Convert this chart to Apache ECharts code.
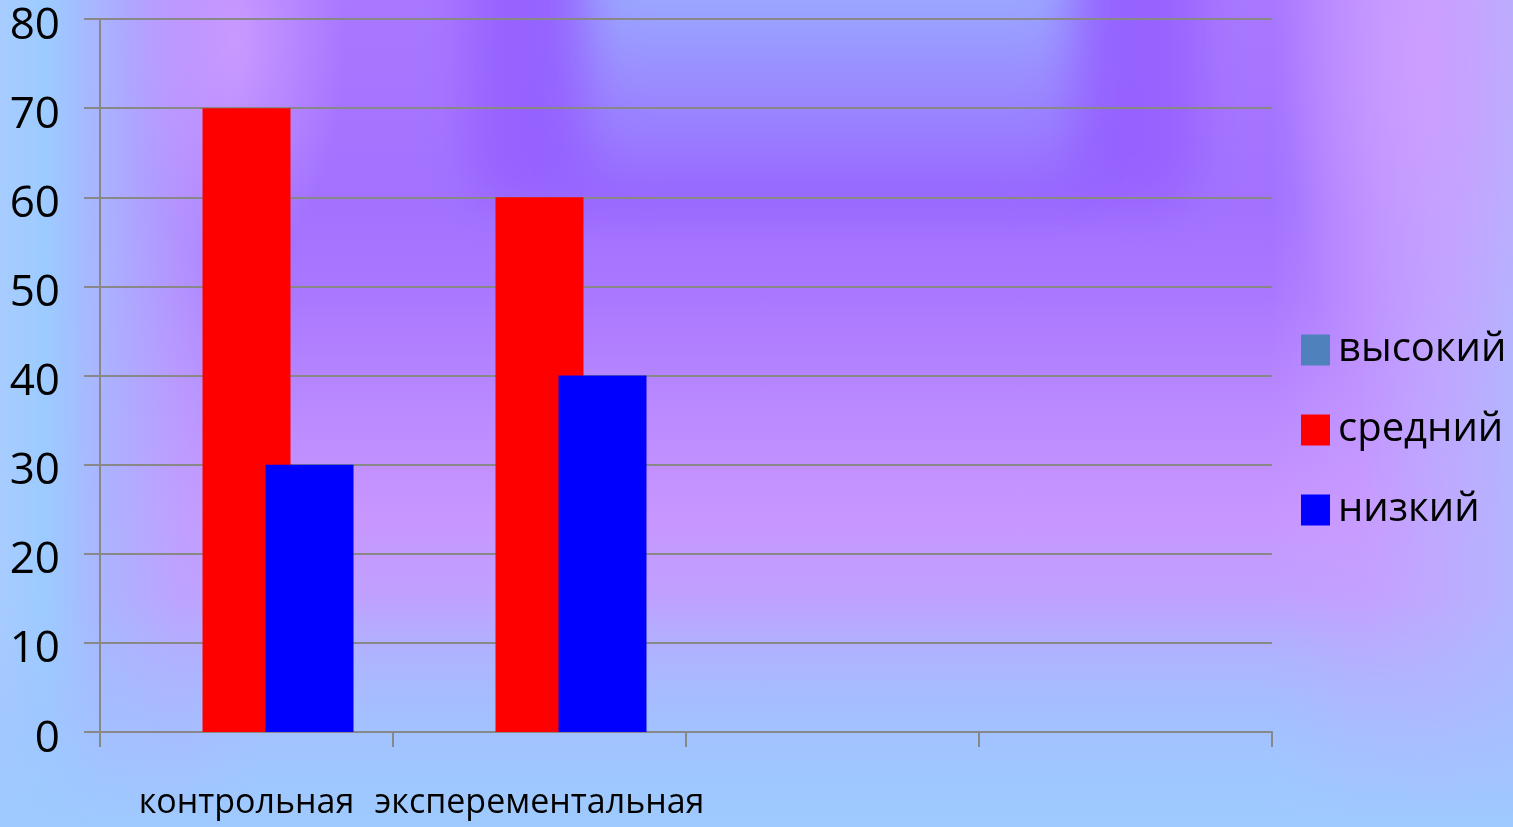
<!DOCTYPE html>
<html>
<head>
<meta charset="utf-8">
<script src="https://cdn.jsdelivr.net/npm/echarts@6/dist/echarts.min.js"></script>
<style>
html,body{margin:0;padding:0;width:1513px;height:827px;overflow:hidden;}
body{
  position:relative;
  background:
    linear-gradient(to bottom, rgba(158,200,255,0) 72%, rgba(160,196,255,0.55) 86%, rgba(158,202,255,1) 100%),
    radial-gradient(ellipse 110px 230px at 235px 40px, rgba(204,158,255,0.9), rgba(204,158,255,0) 100%),
    linear-gradient(to right, #a8ccff 0%, #9ccbff 3%, rgba(171,180,255,0.95) 7%, rgba(188,164,255,0.6) 12%, rgba(188,164,255,0) 17%),
    radial-gradient(ellipse 140px 380px at 1425px 60px, rgba(206,158,255,0.9), rgba(206,158,255,0) 100%),
    linear-gradient(to left, #b4b4ff 0%, rgba(190,170,255,0.9) 5%, rgba(200,160,255,0.5) 10%, rgba(200,160,255,0) 16%),
    linear-gradient(to bottom, #a878ff 0%, #a272ff 25%, #aa78ff 36%, #b888ff 48%, #c896ff 62%, #c0a0ff 72%, #aab8ff 86%, #9ec8ff 100%);
}
.blob{position:absolute;pointer-events:none;}
#b1{left:468px;top:-80px;width:730px;height:290px;background:#9662ff;border-radius:50px;filter:blur(22px);opacity:0.95;}
#b2{left:585px;top:-70px;width:490px;height:250px;background:linear-gradient(to bottom,#9ab6ff 0%,#9aa2ff 35%,#9a8aff 62%,#9972ff 100%);border-radius:40px;filter:blur(24px);}
#chart{position:absolute;left:0;top:0;width:1513px;height:827px;}
</style>
</head>
<body>
<div class="blob" id="b1"></div>
<div class="blob" id="b2"></div>
<div id="chart"></div>
<script>
var categories = ['контрольная', 'эксперементальная', '', ''];
var seriesNames = ['высокий', 'средний', 'низкий'];
var highValues = [0, 0, null, null];
var midValues = [70, 60, null, null];
var lowValues = [30, 40, null, null];
var yTicks = [0, 10, 20, 30, 40, 50, 60, 70, 80];

var chart = echarts.init(document.getElementById('chart'));
var textFont = '"Open Sans", "Noto Sans", sans-serif';
chart.setOption({
  backgroundColor: 'transparent',
  animation: false,
  grid: {left: 100, right: 241, top: 19, bottom: 95, containLabel: false, outerBoundsMode: 'none'},
  legend: {
    orient: 'vertical',
    left: 1296,
    top: 322,
    icon: 'rect',
    itemWidth: 29,
    itemHeight: 31,
    itemGap: 34,
    data: seriesNames,
    textStyle: {fontSize: 40, fontFamily: textFont, color: '#000', lineHeight: 42, padding: [4, 0, 0, 3]}
  },
  xAxis: {
    type: 'category',
    data: categories,
    axisLine: {lineStyle: {color: '#888', width: 2}},
    axisTick: {show: true, length: 15, interval: 0, lineStyle: {color: '#888', width: 2}},
    axisLabel: {interval: 0, fontSize: 34, fontFamily: textFont, color: '#000', margin: 54}
  },
  yAxis: {
    type: 'value',
    min: yTicks[0],
    max: yTicks[yTicks.length - 1],
    interval: 10,
    axisLine: {show: true, lineStyle: {color: '#888', width: 2}},
    axisTick: {show: true, length: 16, lineStyle: {color: '#888', width: 2}},
    splitLine: {lineStyle: {color: '#888', width: 2}},
    axisLabel: {
      margin: 40,
      formatter: function (v) { return '{a|' + v + '}'; },
      rich: {a: {fontSize: 44, fontFamily: textFont, color: '#000', padding: [14, 0, 0, 0]}}
    }
  },
  series: [
    {name: seriesNames[0], type: 'bar', data: highValues, barWidth: 88, barGap: '-28.4%', itemStyle: {color: '#4f81bd'}},
    {name: seriesNames[1], type: 'bar', data: midValues, barWidth: 88, barGap: '-28.4%', itemStyle: {color: '#ff0000'}},
    {name: seriesNames[2], type: 'bar', data: lowValues, barWidth: 88, barGap: '-28.4%', itemStyle: {color: '#0000ff'}}
  ]
});
</script>
</body>
</html>
